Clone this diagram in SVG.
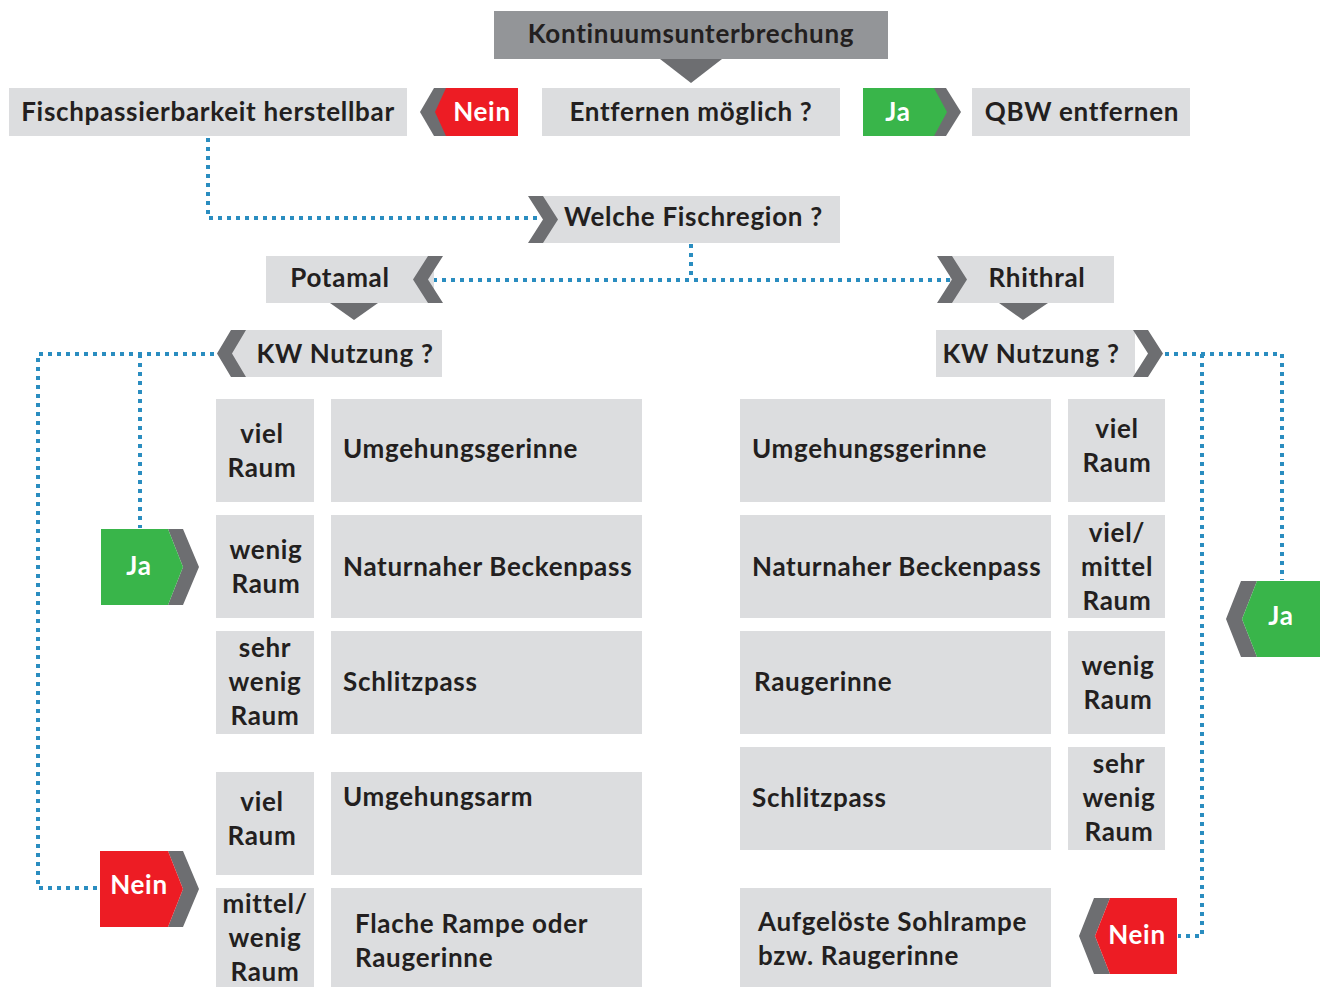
<svg xmlns="http://www.w3.org/2000/svg" width="1320" height="987" viewBox="0 0 1320 987">
<style>
.box{fill:#dcdddf}
.dk{fill:#6d6e71}
.red{fill:#ed1c24}
.grn{fill:#39b54a}
text{font-family:Lato,"Open Sans","Liberation Sans",sans-serif;font-weight:bold;font-size:26px;letter-spacing:0.7px;fill:#231f20}
.c{text-anchor:middle}
.w{fill:#ffffff}
.dot{fill:none;stroke:#2a8dc0;stroke-width:4;stroke-dasharray:4 5}
</style>
<rect width="1320" height="987" fill="#ffffff"/>
<g id="connectors">
<path class="dot" d="M208,138 V218 H538"/>
<path class="dot" d="M691,244 V280 M433,280 H950"/>
<path class="dot" d="M214,354 H38 V888 H100 M140,354 V528"/>
<path class="dot" d="M1165,354 H1282 V580 M1202,354 V936 H1178"/>
</g>
<g id="n-kontinuum">
<rect x="494" y="11" width="394" height="48" fill="#939598"/>
<polygon class="dk" points="660,59 722,59 691,83"/>
<text class="c" x="691" y="43">Kontinuumsunterbrechung</text>
</g>
<g id="n-fisch">
<rect class="box" x="9" y="88" width="398" height="48"/>
<text class="c" x="208" y="121">Fischpassierbarkeit herstellbar</text>
</g>
<g id="n-nein-top">
<polygon class="dk" points="420,112 434,88 450,88 450,136 434,136"/>
<polygon class="red" points="446,88 518,88 518,136 446,136 435,112"/>
<text class="c w" x="482" y="121">Nein</text>
</g>
<g id="n-entfernen">
<rect class="box" x="542" y="88" width="298" height="48"/>
<text class="c" x="691" y="121">Entfernen möglich ?</text>
</g>
<g id="n-ja-top">
<polygon class="dk" points="930,88 946,88 961,112 946,136 930,136"/>
<polygon class="grn" points="863,88 934,88 947,112 934,136 863,136"/>
<text class="c w" x="898" y="121">Ja</text>
</g>
<g id="n-qbw">
<rect class="box" x="972" y="88" width="218" height="48"/>
<text class="c" x="1082" y="121">QBW entfernen</text>
</g>
<g id="n-welche">
<rect class="box" x="543" y="196" width="297" height="47"/>
<polygon class="dk" points="528,196 543,196 558,219.5 543,243 528,243 543,219.5"/>
<text x="564" y="226">Welche Fischregion ?</text>
</g>
<g id="n-potamal">
<rect class="box" x="266" y="256" width="168" height="47"/>
<polygon class="dk" points="428,256 443,256 428,279.5 443,303 428,303 413,279.5"/>
<polygon class="dk" points="330,303 378,303 354,320"/>
<text class="c" x="340" y="287">Potamal</text>
</g>
<g id="n-rhithral">
<rect class="box" x="950" y="256" width="164" height="47"/>
<polygon class="dk" points="937,256 952,256 967,279.5 952,303 937,303 952,279.5"/>
<polygon class="dk" points="999,303 1048,303 1023,320"/>
<text class="c" x="1037" y="287">Rhithral</text>
</g>
<g id="n-kw-left">
<rect class="box" x="232" y="330" width="210" height="47"/>
<polygon class="dk" points="231,330 246,330 232,353.5 246,377 231,377 217,353.5"/>
<text class="c" x="345" y="363">KW Nutzung ?</text>
</g>
<g id="n-kw-right">
<rect class="box" x="936" y="330" width="199" height="47"/>
<polygon class="dk" points="1133,330 1148,330 1163,353.5 1148,377 1133,377 1148,353.5"/>
<text class="c" x="1031" y="363">KW Nutzung ?</text>
</g>
<g id="n-ja-left">
<polygon class="dk" points="168,529 183,529 199,567 183,605 168,605 183,567"/>
<polygon class="grn" points="101,529 168,529 183,567 168,605 101,605"/>
<text class="c w" x="139" y="575">Ja</text>
</g>
<g id="n-nein-left">
<polygon class="dk" points="168,851 183,851 199,889 183,927 168,927 183,889"/>
<polygon class="red" points="100,851 168,851 183,889 168,927 100,927"/>
<text class="c w" x="139" y="894">Nein</text>
</g>
<g id="n-ja-right">
<polygon class="dk" points="1241,581 1257,581 1242,619 1257,657 1241,657 1226,619"/>
<polygon class="grn" points="1257,581 1320,581 1320,657 1257,657 1242,619"/>
<text class="c w" x="1281" y="625">Ja</text>
</g>
<g id="n-nein-right">
<polygon class="dk" points="1094,898 1110,898 1095,936 1110,974 1094,974 1079,936"/>
<polygon class="red" points="1110,898 1177,898 1177,974 1110,974 1095,936"/>
<text class="c w" x="1137" y="944">Nein</text>
</g>
<g id="left-table">
<g id="l1">
<rect class="box" x="216" y="399" width="98" height="103"/>
<rect class="box" x="331" y="399" width="311" height="103"/>
<text class="c" x="262" y="443">viel</text><text class="c" x="262" y="477">Raum</text>
<text x="343" y="458">Umgehungsgerinne</text>
</g>
<g id="l2">
<rect class="box" x="216" y="515" width="98" height="103"/>
<rect class="box" x="331" y="515" width="311" height="103"/>
<text class="c" x="266" y="559">wenig</text><text class="c" x="266" y="593">Raum</text>
<text x="343" y="576">Naturnaher Beckenpass</text>
</g>
<g id="l3">
<rect class="box" x="216" y="631" width="98" height="103"/>
<rect class="box" x="331" y="631" width="311" height="103"/>
<text class="c" x="265" y="657">sehr</text><text class="c" x="265" y="691">wenig</text><text class="c" x="265" y="725">Raum</text>
<text x="343" y="691">Schlitzpass</text>
</g>
<g id="l4">
<rect class="box" x="216" y="772" width="98" height="103"/>
<rect class="box" x="331" y="772" width="311" height="103"/>
<text class="c" x="262" y="811">viel</text><text class="c" x="262" y="845">Raum</text>
<text x="343" y="806">Umgehungsarm</text>
</g>
<g id="l5">
<rect class="box" x="216" y="888" width="98" height="99"/>
<rect class="box" x="331" y="888" width="311" height="99"/>
<text class="c" x="265" y="913">mittel/</text><text class="c" x="265" y="947">wenig</text><text class="c" x="265" y="981">Raum</text>
<text x="355" y="933">Flache Rampe oder</text><text x="355" y="967">Raugerinne</text>
</g>
</g>
<g id="right-table">
<g id="r1">
<rect class="box" x="740" y="399" width="311" height="103"/>
<rect class="box" x="1068" y="399" width="97" height="103"/>
<text x="752" y="458">Umgehungsgerinne</text>
<text class="c" x="1117" y="438">viel</text><text class="c" x="1117" y="472">Raum</text>
</g>
<g id="r2">
<rect class="box" x="740" y="515" width="311" height="103"/>
<rect class="box" x="1068" y="515" width="97" height="103"/>
<text x="752" y="576">Naturnaher Beckenpass</text>
<text class="c" x="1117" y="542">viel/</text><text class="c" x="1117" y="576">mittel</text><text class="c" x="1117" y="610">Raum</text>
</g>
<g id="r3">
<rect class="box" x="740" y="631" width="311" height="103"/>
<rect class="box" x="1068" y="631" width="97" height="103"/>
<text x="754" y="691">Raugerinne</text>
<text class="c" x="1118" y="675">wenig</text><text class="c" x="1118" y="709">Raum</text>
</g>
<g id="r4">
<rect class="box" x="740" y="747" width="311" height="103"/>
<rect class="box" x="1068" y="747" width="97" height="103"/>
<text x="752" y="807">Schlitzpass</text>
<text class="c" x="1119" y="773">sehr</text><text class="c" x="1119" y="807">wenig</text><text class="c" x="1119" y="841">Raum</text>
</g>
<g id="r5">
<rect class="box" x="740" y="888" width="311" height="99"/>
<text x="758" y="931">Aufgelöste Sohlrampe</text><text x="758" y="965">bzw. Raugerinne</text>
</g>
</g>
</svg>
